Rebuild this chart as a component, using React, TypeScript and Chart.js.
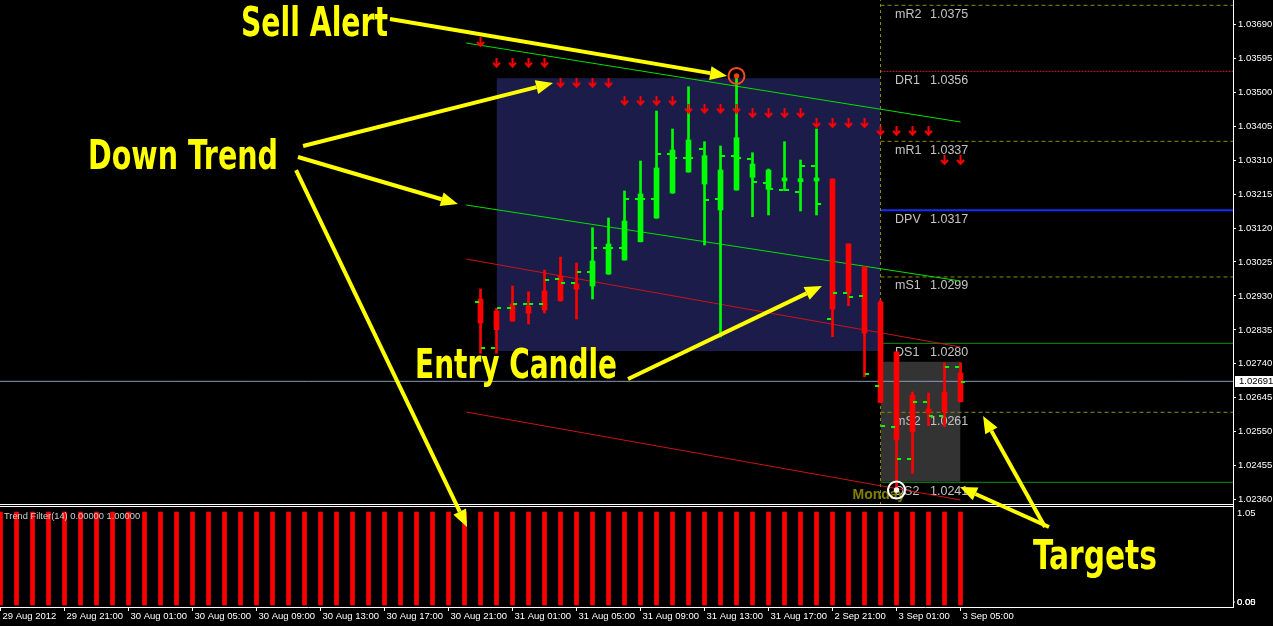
import React, { useEffect, useRef } from 'react';
import { Chart, registerables } from 'chart.js';

Chart.register(...registerables);

// ---------------- data ----------------
const xTickLabels = [
  '29 Aug 2012', '29 Aug 21:00', '30 Aug 01:00', '30 Aug 05:00', '30 Aug 09:00', '30 Aug 13:00',
  '30 Aug 17:00', '30 Aug 21:00', '31 Aug 01:00', '31 Aug 05:00', '31 Aug 09:00', '31 Aug 13:00',
  '31 Aug 17:00', '2 Sep 21:00', '3 Sep 01:00', '3 Sep 05:00',
];
const barsPerTick = 4;

const priceTicks = [
  1.0369, 1.03595, 1.035, 1.03405, 1.0331, 1.03215, 1.0312, 1.03025, 1.0293,
  1.02835, 1.0274, 1.02645, 1.0255, 1.02455, 1.0236,
];
const panelTopLabel = '1.05';
const panelBottomLabels = ['0.05', '0.00'];

const candleFirstBar = 30;
const candleOpen = [
  1.029214, 1.028878, 1.029074, 1.029018, 1.029438, 1.029858, 1.029634, 1.029578, 1.029913, 1.030305,
  1.030817, 1.03148, 1.03218, 1.032767, 1.032432, 1.031704, 1.032264, 1.032619, 1.032283, 1.032516,
  1.032496, 1.032516, 1.032572, 1.030753, 1.030109, 1.02913, 1.027731, 1.026519, 1.026136, 1.026612,
  1.027143,
];
const candleHigh = [
  1.029494, 1.028954, 1.029578, 1.029418, 1.030025, 1.030389, 1.030221, 1.031209, 1.03148, 1.032236,
  1.033075, 1.034474, 1.033971, 1.035154, 1.033615, 1.033495, 1.035454, 1.033307, 1.032851, 1.033615,
  1.033103, 1.033971, 1.03258, 1.03076, 1.030115, 1.029186, 1.02774, 1.026612, 1.026584, 1.027432,
  1.027432,
];
const candleLow = [
  1.027695, 1.027695, 1.02859, 1.028514, 1.028822, 1.02915, 1.028654, 1.029214, 1.0299, 1.0303,
  1.03081, 1.03147, 1.03217, 1.03276, 1.030725, 1.02815, 1.03226, 1.031517, 1.031564, 1.032244,
  1.031676, 1.031564, 1.028159, 1.029027, 1.02704, 1.026312, 1.02387, 1.024337, 1.025669, 1.025641,
  1.026335,
];
const candleClose = [
  1.028542, 1.028355, 1.028598, 1.028822, 1.028906, 1.029165, 1.029494, 1.030277, 1.030753, 1.031396,
  1.032152, 1.032879, 1.033383, 1.033663, 1.033224, 1.032823, 1.033727, 1.032991, 1.032823, 1.0326,
  1.03258, 1.0326, 1.028926, 1.029373, 1.028263, 1.02632, 1.025269, 1.025501, 1.026024, 1.026061,
  1.02634,
];
// short green marks drawn on the left / right side of each candle
const markLeft = [
  1.029138, 1.027835, 1.028954, 1.029066, 1.029066, 1.029782, 1.029653, 1.029978, 1.030649, 1.030649,
  1.03202, 1.032004, 1.033263, 1.033168, 1.033411, 1.032012, 1.033224, 1.033131, 1.032468, 1.032264,
  1.032216, 1.032935, 1.028663, 1.02939, 1.029306, 1.02678, 1.025641, 1.024746, 1.02634, 1.02594,
  1.02732,
];
const markRight = [
  1.027851, 1.028954, 1.029066, 1.029066, 1.029754, 1.029653, 1.029978, 1.030649, 1.030649, 1.03202,
  1.03202, 1.033263, 1.033168, 1.033168, 1.031992, 1.033224, 1.033159, 1.032496, 1.032283, 1.032264,
  1.032935, 1.031864, 1.02939, 1.029278, 1.027107, 1.025661, 1.024746, 1.02634, 1.02594, 1.02732,
  1.026883,
];
// sell signal arrows (one per candle)
const sellArrows = [
  1.036405,
  1.035826, 1.035826, 1.035826, 1.035826,
  1.035266, 1.035266, 1.035266, 1.035266,
  1.034762, 1.034762, 1.034762, 1.034762,
  1.034539, 1.034539, 1.034539, 1.034539,
  1.034418, 1.034418, 1.034418, 1.034418,
  1.034138, 1.034138, 1.034138, 1.034138,
  1.033923, 1.033923, 1.033923, 1.033923,
  1.033103, 1.033103,
];
const sellAlertBar = 46;
const targetHitBar = 56;

// trend filter histogram, bars 0..60
const trendFilter = [
  1, 1, 1, 1, 1, 1, 1, 1, 1, 1, 1, 1, 1, 1, 1, 1, 1, 1, 1, 1,
  1, 1, 1, 1, 1, 1, 1, 1, 1, 1, 1, 1, 1, 1, 1, 1, 1, 1, 1, 1,
  1, 1, 1, 1, 1, 1, 1, 1, 1, 1, 1, 1, 1, 1, 1, 1, 1, 1, 1, 1,
  1,
];

// channel lines (start / end price)
const channelBars = [29.1, 60.0];
const channelUpperGreen = [1.036377, 1.034166];
const channelMidGreen = [1.031844, 1.029718];
const channelUpperRed = [1.030333, 1.027871];
const channelLowerRed = [1.026052, 1.02359];

// session boxes
const fridayBox = { from: 31, to: 55, top: 1.035389, bottom: 1.027759 };
const mondayBox = { from: 55, to: 60, top: 1.02746, bottom: 1.02411 };

// pivots
const pivotStartBar = 55;
const pivotNames = ['mR2', 'DR1', 'mR1', 'DPV', 'mS1', 'DS1', 'mS2', 'DS2'];
const pivotLabels = ['1.0375', '1.0356', '1.0337', '1.0317', '1.0299', '1.0280', '1.0261', '1.0241'];
const pivotLevels = [1.037432, 1.035585, 1.033626, 1.031696, 1.02983, 1.027974, 1.026044, 1.024085];
const bidPrice = 1.02691;

// ---------------- layout / style ----------------
const W = 1273;
const H = 626;
const X_MIN = -0.03125;
const X_MAX = 77.03;
const Y_MIN = 1.02345;
const Y_MAX = 1.03758;
const AXIS_W = 40;
const XAXIS_H = 19;
const MAIN_H = 505;
const LOWER_H = H - XAXIS_H - MAIN_H;

const pivotStyles = [
  { color: '#8c8c00', dash: [4, 3], width: 1 },
  { color: '#d02020', dash: [2, 1], width: 1 },
  { color: '#8c8c00', dash: [4, 3], width: 1 },
  { color: '#1030ff', dash: [], width: 2 },
  { color: '#8c8c00', dash: [4, 3], width: 1 },
  { color: '#109010', dash: [], width: 1 },
  { color: '#8c8c00', dash: [4, 3], width: 1 },
  { color: '#109010', dash: [], width: 1 },
];

// callouts anchored in (bar, price) units of the main panel
const callouts = [
  { text: 'Sell Alert', bar: 15.03, price: 1.036573, width: 147, size: 40 },
  { text: 'Down Trend', bar: 5.47, price: 1.032851, width: 190, size: 40 },
  { text: 'Entry Candle', bar: 25.91, price: 1.027004, width: 202, size: 40 },
  { text: 'Targets', bar: 64.53, price: 1.021659, width: 124, size: 40 },
];
const calloutArrows = [
  [24.34, 1.037048, 45.41, 1.035454],
  [18.91, 1.033495, 34.53, 1.035258],
  [18.59, 1.033187, 28.59, 1.031872],
  [18.47, 1.032823, 29.16, 1.022835],
  [39.22, 1.026976, 51.34, 1.029578],
  [65.28, 1.022835, 61.41, 1.02594],
  [65.53, 1.022835, 59.97, 1.023954],
];

const AXIS_FONT = { family: '"Liberation Sans", Arial, sans-serif', size: 9.5 };

function makeArrowImage() {
  const c = document.createElement('canvas');
  c.width = 9;
  c.height = 10;
  const g = c.getContext('2d')!;
  g.strokeStyle = '#ff0000';
  g.lineWidth = 2;
  g.beginPath();
  g.moveTo(4.5, 0);
  g.lineTo(4.5, 9);
  g.stroke();
  g.beginPath();
  g.moveTo(1, 5);
  g.lineTo(4.5, 8.8);
  g.lineTo(8, 5);
  g.stroke();
  return c;
}

function makeMarkImage(side: 'left' | 'right') {
  const c = document.createElement('canvas');
  c.width = 11;
  c.height = 2;
  const g = c.getContext('2d')!;
  g.fillStyle = '#00ff00';
  if (side === 'left') g.fillRect(0, 0, 4, 2);
  else g.fillRect(6, 0, 4, 2);
  return c;
}

function drawArrow(ctx: CanvasRenderingContext2D, x1: number, y1: number, x2: number, y2: number) {
  const ang = Math.atan2(y2 - y1, x2 - x1);
  const headLen = 17;
  const headW = 7;
  const bx = x2 - Math.cos(ang) * headLen;
  const by = y2 - Math.sin(ang) * headLen;
  ctx.strokeStyle = '#ffff00';
  ctx.fillStyle = '#ffff00';
  ctx.lineWidth = 4;
  ctx.lineCap = 'butt';
  ctx.beginPath();
  ctx.moveTo(x1, y1);
  ctx.lineTo(bx, by);
  ctx.stroke();
  ctx.beginPath();
  ctx.moveTo(x2, y2);
  ctx.lineTo(bx + Math.sin(ang) * headW, by - Math.cos(ang) * headW);
  ctx.lineTo(bx - Math.sin(ang) * headW, by + Math.cos(ang) * headW);
  ctx.closePath();
  ctx.fill();
}

const zeroPadding = (s: any) => {
  s.paddingLeft = 0;
  s.paddingRight = 0;
  s.paddingTop = 0;
  s.paddingBottom = 0;
};

const overlayPlugin = {
  id: 'mt4overlay',
  beforeDraw(chart: any) {
    const { ctx } = chart;
    ctx.save();
    ctx.fillStyle = '#000000';
    ctx.fillRect(0, 0, chart.width, chart.height);
    ctx.restore();
  },
  afterDatasetDraw(chart: any, args: any) {
    const ds = chart.data.datasets[args.index];
    if (!ds || ds.label !== 'Monday box') return;
    const { ctx } = chart;
    const xs = chart.scales.x;
    const ys = chart.scales.y;
    const x0 = xs.getPixelForValue(pivotStartBar);
    ctx.save();
    ctx.font = '12.5px "Liberation Sans", Arial, sans-serif';
    ctx.fillStyle = '#c4c4c4';
    ctx.textBaseline = 'alphabetic';
    pivotNames.forEach((n, i) => {
      const y = ys.getPixelForValue(pivotLevels[i]) + 12.5;
      ctx.fillText(n, x0 + 14.5, y);
      ctx.fillText(pivotLabels[i], x0 + 49.5, y);
    });
    ctx.font = 'bold 14px "Liberation Sans", Arial, sans-serif';
    ctx.fillStyle = '#808000';
    ctx.fillText('Monday', x0 - 28, ys.bottom - 6);
    ctx.restore();
  },
  afterDraw(chart: any) {
    const { ctx } = chart;
    const xs = chart.scales.x;
    const ys = chart.scales.y;
    const y2 = chart.scales.y2;
    const right = chart.chartArea.right;
    ctx.save();
    // panel frames
    ctx.fillStyle = '#ffffff';
    ctx.fillRect(0, Math.round(ys.bottom) - 1, right + 1, 1);
    ctx.fillRect(0, Math.round(y2.top) + 1, right + 1, 1);
    // indicator legend
    ctx.font = '9.3px "Liberation Sans", Arial, sans-serif';
    ctx.fillStyle = '#d0d0d0';
    ctx.textBaseline = 'alphabetic';
    ctx.fillText('Trend Filter(14) 0.00000 1.00000', 4, y2.top + 14);
    // lower panel scale labels
    ctx.font = '9.5px "Liberation Sans", Arial, sans-serif';
    ctx.fillStyle = '#ffffff';
    ctx.textBaseline = 'middle';
    ctx.fillText(panelTopLabel, right + 4, y2.top + 8);
    panelBottomLabels.forEach((t) => ctx.fillText(t, right + 4, y2.bottom - 5));
    ctx.fillRect(right, y2.bottom - 5.5, 2, 1);
    // bid price label
    const by = Math.round(ys.getPixelForValue(bidPrice));
    ctx.fillStyle = '#ffffff';
    ctx.fillRect(right + 2, by - 5, W - right - 2, 11);
    ctx.fillStyle = '#000000';
    ctx.fillText(bidPrice.toFixed(5), right + 6, by + 0.5);
    // callouts
    calloutArrows.forEach((a) => {
      drawArrow(
        ctx,
        xs.getPixelForValue(a[0]), ys.getPixelForValue(a[1]),
        xs.getPixelForValue(a[2]), ys.getPixelForValue(a[3]),
      );
    });
    ctx.fillStyle = '#ffff00';
    ctx.textBaseline = 'alphabetic';
    callouts.forEach((c) => {
      ctx.font = `bold ${c.size}px "Liberation Sans Narrow", "DejaVu Sans Condensed", "Liberation Sans", sans-serif`;
      const w = ctx.measureText(c.text).width;
      ctx.save();
      ctx.translate(xs.getPixelForValue(c.bar), ys.getPixelForValue(c.price));
      ctx.scale(c.width / w, 1);
      ctx.fillText(c.text, 0, 0);
      ctx.restore();
    });
    ctx.restore();
  },
};

function buildConfig(): any {
  const arrowImg = makeArrowImage();
  const leftImg = makeMarkImage('left');
  const rightImg = makeMarkImage('right');
  const bars = candleOpen.map((_, i) => candleFirstBar + i);
  const colors = candleOpen.map((o, i) => (candleClose[i] >= o ? '#00ff00' : '#ff0000'));
  const hline = (y: number) => [{ x: X_MIN - 1, y }, { x: X_MAX + 1, y }];
  const seg = (vals: number[]) => channelBars.map((b, i) => ({ x: b, y: vals[i] }));
  const boxEdge = (b: any, v: number) => [{ x: b.from, y: v }, { x: b.to, y: v }];

  const datasets: any[] = [
    { type: 'line', label: 'Friday top', data: boxEdge(fridayBox, fridayBox.top), borderWidth: 0, pointRadius: 0, order: 100, yAxisID: 'y' },
    { type: 'line', label: 'Friday box', data: boxEdge(fridayBox, fridayBox.bottom), borderWidth: 0, pointRadius: 0, fill: '-1', backgroundColor: '#1c1c4a', order: 99, yAxisID: 'y' },
    { type: 'line', label: 'Monday top', data: boxEdge(mondayBox, mondayBox.top), borderWidth: 0, pointRadius: 0, order: 98, yAxisID: 'y' },
    { type: 'line', label: 'Monday box', data: boxEdge(mondayBox, mondayBox.bottom), borderWidth: 0, pointRadius: 0, fill: '-1', backgroundColor: '#333333', order: 97, yAxisID: 'y' },
  ];
  pivotLevels.forEach((lv, i) => {
    datasets.push({
      type: 'line', label: pivotNames[i], data: [{ x: pivotStartBar, y: lv }, { x: X_MAX + 1, y: lv }],
      borderColor: pivotStyles[i].color, borderDash: pivotStyles[i].dash, borderWidth: pivotStyles[i].width,
      pointRadius: 0, order: 90, yAxisID: 'y',
    });
  });
  datasets.push(
    { type: 'line', label: 'day separator', data: [{ x: pivotStartBar, y: Y_MIN }, { x: pivotStartBar, y: Y_MAX }], borderColor: '#8c8c00', borderDash: [3, 3], borderWidth: 1, pointRadius: 0, order: 89, yAxisID: 'y' },
    { type: 'line', label: 'bid', data: hline(bidPrice), borderColor: '#8a9ab8', borderWidth: 1, pointRadius: 0, order: 88, yAxisID: 'y' },
    { type: 'line', label: 'ch1', data: seg(channelUpperGreen), borderColor: '#00e000', borderWidth: 1, pointRadius: 0, order: 80, yAxisID: 'y' },
    { type: 'line', label: 'ch2', data: seg(channelMidGreen), borderColor: '#00e000', borderWidth: 1, pointRadius: 0, order: 80, yAxisID: 'y' },
    { type: 'line', label: 'ch3', data: seg(channelUpperRed), borderColor: '#c81414', borderWidth: 1, pointRadius: 0, order: 80, yAxisID: 'y' },
    { type: 'line', label: 'ch4', data: seg(channelLowerRed), borderColor: '#c81414', borderWidth: 1, pointRadius: 0, order: 80, yAxisID: 'y' },
    {
      type: 'bar', label: 'wicks', data: bars.map((b, i) => ({ x: b, y: [candleLow[i], candleHigh[i]] })),
      backgroundColor: colors, barThickness: 2, grouped: false, borderWidth: 0, order: 20, yAxisID: 'y',
    },
    {
      type: 'bar', label: 'bodies', data: bars.map((b, i) => ({ x: b, y: [candleOpen[i], candleClose[i]] })),
      backgroundColor: colors, barThickness: 5, grouped: false, borderWidth: 0, order: 19, yAxisID: 'y',
    },
    { type: 'line', label: 'markL', data: bars.map((b, i) => ({ x: b, y: markLeft[i] })), showLine: false, pointStyle: leftImg, pointRadius: 3, order: 10, yAxisID: 'y' },
    { type: 'line', label: 'markR', data: bars.map((b, i) => ({ x: b, y: markRight[i] })), showLine: false, pointStyle: rightImg, pointRadius: 3, order: 10, yAxisID: 'y' },
    { type: 'line', label: 'sell', data: bars.map((b, i) => ({ x: b, y: sellArrows[i] })), showLine: false, pointStyle: arrowImg, pointRadius: 4, order: 9, yAxisID: 'y' },
    {
      type: 'line', label: 'alert ring', data: [{ x: sellAlertBar, y: candleHigh[sellAlertBar - candleFirstBar] }], showLine: false,
      pointRadius: 8, pointBorderWidth: 2, pointBorderColor: '#ff4a1a', pointBackgroundColor: 'rgba(0,0,0,0)', order: 3, yAxisID: 'y',
    },
    {
      type: 'line', label: 'alert dot', data: [{ x: sellAlertBar, y: candleHigh[sellAlertBar - candleFirstBar] }], showLine: false,
      pointRadius: 2.7, pointBorderWidth: 0, pointBackgroundColor: '#ff3c00', order: 2, yAxisID: 'y',
    },
    {
      type: 'line', label: 'target ring', data: [{ x: targetHitBar, y: candleLow[targetHitBar - candleFirstBar] }], showLine: false,
      pointRadius: 8.5, pointBorderWidth: 2, pointBorderColor: '#ffffff', pointBackgroundColor: 'rgba(0,0,0,0)', order: 3, yAxisID: 'y',
    },
    {
      type: 'line', label: 'target dot', data: [{ x: targetHitBar, y: candleLow[targetHitBar - candleFirstBar] }], showLine: false,
      pointRadius: 2.7, pointBorderWidth: 0, pointBackgroundColor: '#ffffff', order: 2, yAxisID: 'y',
    },
    {
      type: 'bar', label: 'Trend Filter', data: trendFilter.map((v, i) => ({ x: i, y: v })),
      backgroundColor: '#ff0000', barThickness: 4, grouped: false, borderWidth: 0, order: 50, yAxisID: 'y2',
    },
  );

  return {
    data: { datasets },
    plugins: [overlayPlugin],
    options: {
      responsive: false,
      animation: false,
      devicePixelRatio: 1,
      events: [],
      layout: { padding: 0, autoPadding: false },
      plugins: { legend: { display: false }, tooltip: { enabled: false } },
      scales: {
        x: {
          type: 'linear', position: 'bottom', min: X_MIN, max: X_MAX, offset: false,
          afterBuildTicks: (s: any) => { s.ticks = xTickLabels.map((_, k) => ({ value: k * barsPerTick })); },
          afterFit: (s: any) => { s.height = XAXIS_H; zeroPadding(s); },
          ticks: {
            autoSkip: false, maxRotation: 0, minRotation: 0, align: 'start', labelOffset: 2, padding: 0,
            color: '#ffffff', font: AXIS_FONT,
            callback: (_v: any, i: number) => xTickLabels[i],
          },
          grid: { drawOnChartArea: false, drawTicks: true, tickLength: 4, color: '#ffffff', offset: false },
          border: { display: true, color: '#ffffff' },
        },
        y: {
          type: 'linear', position: 'right', min: Y_MIN, max: Y_MAX, stack: 'panels', stackWeight: MAIN_H,
          afterBuildTicks: (s: any) => { s.ticks = priceTicks.map((v) => ({ value: v })); },
          afterFit: (s: any) => { s.width = AXIS_W; zeroPadding(s); },
          ticks: { color: '#ffffff', font: AXIS_FONT, padding: 2, callback: (v: any) => Number(v).toFixed(5) },
          grid: { drawOnChartArea: false, drawTicks: true, tickLength: 3, color: '#ffffff' },
          border: { display: true, color: '#ffffff' },
        },
        y2: {
          type: 'linear', position: 'right', min: -0.0215, max: 1.0753, stack: 'panels', stackWeight: LOWER_H,
          afterBuildTicks: (s: any) => { s.ticks = []; },
          afterFit: (s: any) => { s.width = AXIS_W; zeroPadding(s); },
          ticks: { display: false },
          grid: { display: false },
          border: { display: true, color: '#ffffff' },
        },
      },
    },
  };
}

export default function App() {
  const ref = useRef<HTMLCanvasElement>(null);
  useEffect(() => {
    document.body.style.margin = '0';
    document.body.style.background = '#000000';
    const chart = new Chart(ref.current as HTMLCanvasElement, buildConfig());
    return () => chart.destroy();
  }, []);
  return (
    <div style={{ width: W, height: H, background: '#000' }}>
      <canvas ref={ref} width={W} height={H} style={{ display: 'block' }} />
    </div>
  );
}
